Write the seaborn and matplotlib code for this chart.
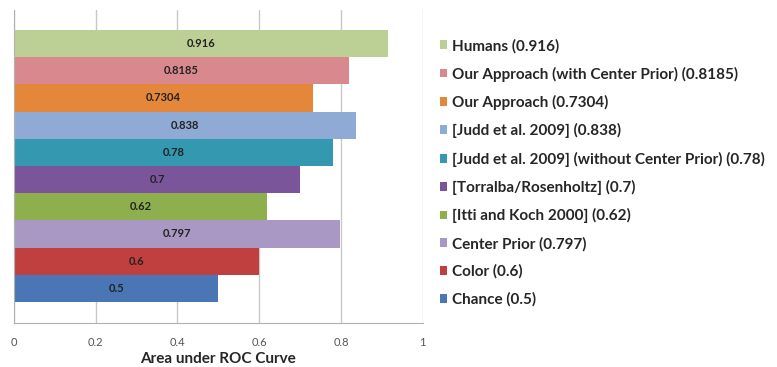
import matplotlib
matplotlib.use("Agg")
import matplotlib.pyplot as plt
import seaborn as sns
import pandas as pd

# Datos del gráfico (de arriba hacia abajo)
metodos = ["Humans", "Our Approach (with Center Prior)", "Our Approach",
           "[Judd et al. 2009]", "[Judd et al. 2009] (without Center Prior)",
           "[Torralba/Rosenholtz]", "[Itti and Koch 2000]", "Center Prior",
           "Color", "Chance"]
auc = [0.916, 0.8185, 0.7304, 0.838, 0.78, 0.7, 0.62, 0.797, 0.6, 0.5]
colores = ["#BCCF94", "#D9898D", "#E5873A", "#8FAAD5", "#3498B0",
           "#7B559A", "#8DAF4E", "#A898C3", "#C0403F", "#4A76B5"]
ticks_x = [0, 0.2, 0.4, 0.6, 0.8, 1]
etiquetas_x = ["0", "0.2", "0.4", "0.6", "0.8", "1"]

df = pd.DataFrame({"metodo": metodos, "auc": auc})
df["leyenda"] = [f"{m} ({v:g})" for m, v in zip(metodos, auc)]

sns.set_style("white")
plt.rcParams["font.family"] = ["Lato", "DejaVu Sans"]

fig = plt.figure(figsize=(7.77, 3.67), dpi=100)
ax = fig.add_axes([0.018, 0.12, 0.526, 0.853])

sns.barplot(data=df, x="auc", y="leyenda", hue="leyenda", palette=colores,
            width=1.0, saturation=1, linewidth=0, legend=True, ax=ax)

# Etiquetas de valor en el centro de cada barra
for cont, v in zip(ax.containers, auc):
    ax.bar_label(cont, labels=[f"{v:g}"], label_type="center",
                 fontsize=8, fontweight="bold", color="#222222")

ax.set_xlim(0, 1)
ax.set_ylim(10.27, -1.235)
ax.set_xticks(ticks_x)
ax.set_xticklabels(etiquetas_x, fontsize=8, color="#555555")
ax.tick_params(axis="x", length=0, pad=10)
ax.set_yticks([])
ax.set_ylabel("")
ax.set_xlabel("Area under ROC Curve", fontsize=11, fontweight="bold", labelpad=3)
ax.grid(axis="x", color="#c8c8c8", linewidth=1)
ax.set_axisbelow(True)
for lado in ["top", "right"]:
    ax.spines[lado].set_visible(False)
ax.spines["left"].set_color("#b0b0b0")
ax.spines["bottom"].set_color("#b0b0b0")

sns.move_legend(ax, "upper left", bbox_to_anchor=(0.548, 0.932), bbox_transform=fig.transFigure,
                frameon=False, title=None, handlelength=0.5, handleheight=0.5,
                handletextpad=0.3, labelspacing=0.87,
                prop={"family": ["Lato", "DejaVu Sans"], "weight": "bold", "size": 11})

fig.savefig("out.png", dpi=100)
